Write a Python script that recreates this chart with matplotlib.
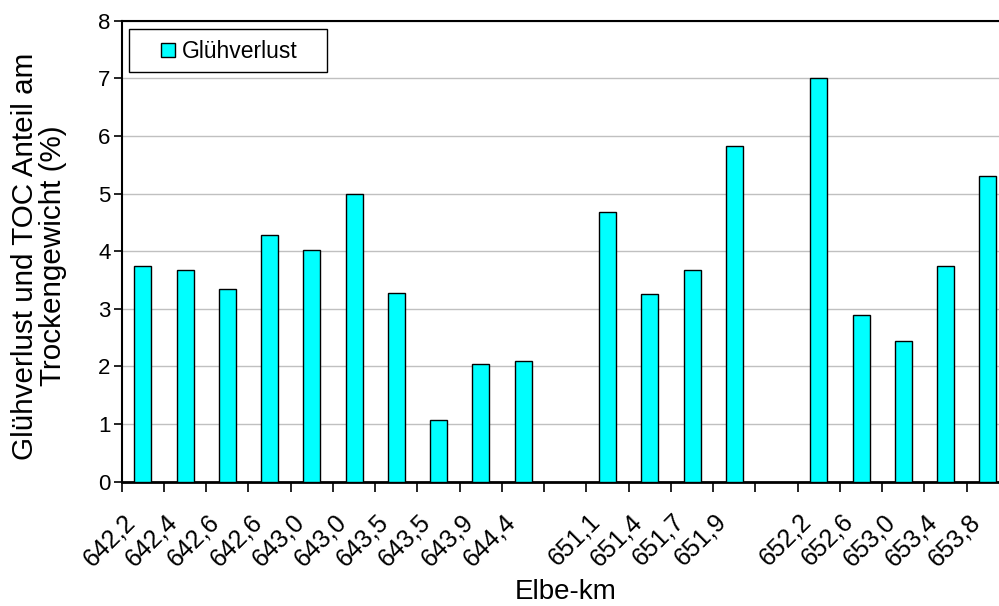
import matplotlib
matplotlib.use("Agg")
import matplotlib.pyplot as plt
import matplotlib.patches as mpatches
import matplotlib.transforms as mtransforms
import numpy as np

plt.rcParams['font.family'] = ['Liberation Sans', 'DejaVu Sans']

# Elbe kilometre of each sampling point; empty strings separate the river sections
stations = ["642,2", "642,4", "642,6", "642,6", "643,0", "643,0", "643,5", "643,5",
            "643,9", "644,4", "", "651,1", "651,4", "651,7", "651,9", "",
            "652,2", "652,6", "653,0", "653,4", "653,8"]
# Loss on ignition (% of dry weight)
gluehverlust = [3.75, 3.67, 3.35, 4.28, 4.02, 5.0, 3.28, 1.07, 2.04, 2.1, None,
                4.68, 3.26, 3.68, 5.83, None, 7.0, 2.89, 2.45, 3.75, 5.31]
y_ticks = [0, 1, 2, 3, 4, 5, 6, 7, 8]

W, H = 999, 606
fig = plt.figure(figsize=(W / 100, H / 100), dpi=100)
ax = fig.add_axes([121.7 / W, (H - 481.7) / H, (1009 - 121.7) / W, (481.7 - 20.7) / H])

x = np.arange(len(stations))
vals = np.array([np.nan if v is None else v for v in gluehverlust])
bars = ax.bar(x, vals, width=0.4, color="#00FFFF", edgecolor="black", linewidth=1.0,
              label="Glühverlust", zorder=3)

ax.set_xlim(-0.5, len(stations) - 0.5)
ax.set_ylim(0, 8)
ax.set_yticks(y_ticks)
ax.yaxis.grid(True, color="#c0c0c0", linewidth=1.0, zorder=0)
ax.set_axisbelow(True)

# category labels at bar centres, tick marks between categories
ax.set_xticks(x)
ax.set_xticklabels(stations, rotation=45, ha="right", va="top",
                   rotation_mode="anchor", fontsize=18)
ax.tick_params(axis="x", which="major", length=0, pad=20)
shift = mtransforms.ScaledTranslation(-20 / 100, 0, fig.dpi_scale_trans)
for lab in ax.get_xticklabels():
    lab.set_transform(lab.get_transform() + shift)
ax.set_xticks(np.arange(-0.5, len(stations), 1.0), minor=True)
ax.tick_params(axis="x", which="minor", length=7, width=1.2, direction="out")
ax.tick_params(axis="y", length=6, width=1.2, direction="out", labelsize=16, pad=2)

for side in ["left", "bottom", "top"]:
    ax.spines[side].set_linewidth(1.5)
ax.spines["bottom"].set_linewidth(2.0)
ax.spines["right"].set_visible(False)

ax.set_xlabel("Elbe-km", fontsize=20, labelpad=6)
ax.set_ylabel("Glühverlust und TOC Anteil am\nTrockengewicht (%)", fontsize=21.3,
              linespacing=1.0)
ax.yaxis.set_label_coords((67 - 121.7) / 887.3, (481.7 - 256) / 461)

# legend: white box with a thin black frame in the upper left corner
frame = mpatches.Rectangle((129.3 / W, 1 - 72.3 / H), (326.7 - 129.3) / W, (72.3 - 29.3) / H,
                           transform=fig.transFigure, facecolor="white", edgecolor="black",
                           linewidth=1.0, zorder=4.5, clip_on=False)
ax.add_patch(frame)
leg = ax.legend(loc="center left", bbox_to_anchor=(161 / W, 1 - 51.5 / H),
                bbox_transform=fig.transFigure, fontsize=16.5, frameon=False,
                handlelength=0.62, handleheight=0.62, handletextpad=0.3,
                borderpad=0.0, borderaxespad=0.0)
leg.set_zorder(6)

fig.savefig("out.png", dpi=100)
